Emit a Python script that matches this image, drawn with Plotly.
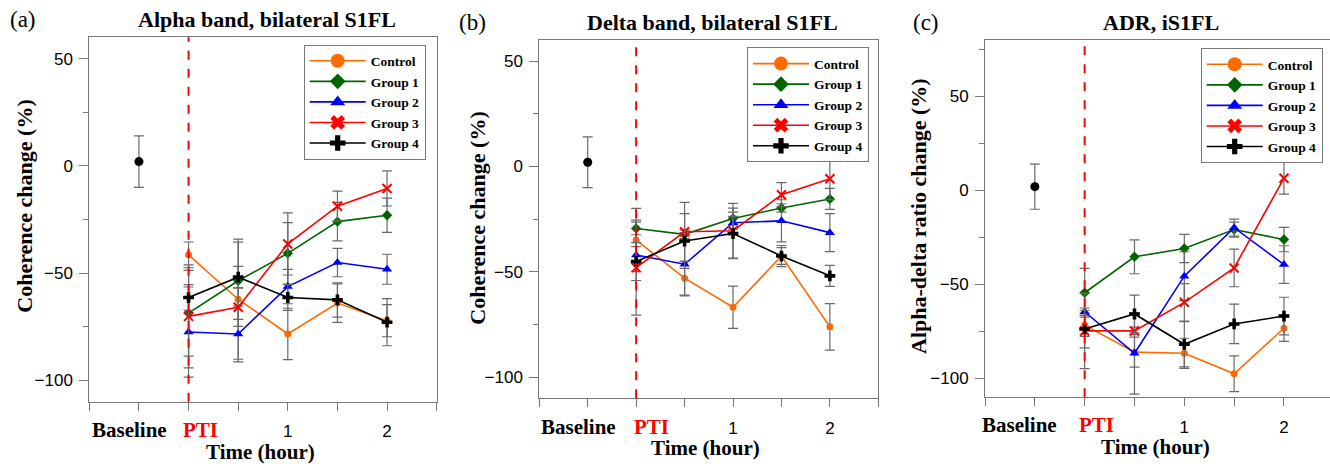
import plotly.graph_objects as go

SERIF = "Liberation Serif"
SANS = "Liberation Sans"
W, H = 1330, 466

# ---------------- data ----------------
groups = ["Control", "Group 1", "Group 2", "Group 3", "Group 4"]
time_points = [0, 0.5, 1, 1.5, 2]
baseline_x = [-0.5]
baseline_y = [2]
baseline_err = [12]

tick_vals = [-1, -0.5, 0, 0.5, 1, 1.5, 2, 2.5]
tick_text = ["", "", "", "", "1", "", "2", ""]
category_labels = ["Baseline", "PTI"]

# Panel (a) Alpha band coherence
a_vals = [
    [-41.5, -62.2, -78.4, -64.0, -72.2],
    [-68.7, -53.6, -40.8, -26.0, -23.0],
    [-77.5, -78.4, -56.3, -45.1, -48.2],
    [-70.2, -65.9, -36.4, -18.8, -10.5],
    [-61.4, -51.9, -61.4, -62.5, -72.9],
]
a_err = [
    [6, 28, 12, 9, 7.5],
    [20, 18, 14.3, 9, 8],
    [21, 13, 8, 6.6, 7],
    [24, 9, 14.5, 7, 8.2],
    [6, 5, 6, 8, 11],
]
# Panel (b) Delta band coherence
b_vals = [
    [-34.9, -53.0, -66.8, -42.5, -76.1],
    [-29.4, -32.2, -24.7, -19.7, -15.4],
    [-42.0, -46.4, -26.7, -25.8, -31.4],
    [-48.0, -31.0, -30.5, -13.4, -5.8],
    [-45.1, -35.4, -31.8, -42.5, -51.9],
]
b_err = [
    [15, 8, 10, 4, 11],
    [3, 2, 3, 2, 5],
    [4, 15, 3, 10, 9],
    [22.5, 14, 13, 5.7, 10],
    [9, 13, 12, 5, 5],
]
# Panel (c) ADR
c_vals = [
    [-71.6, -86.0, -86.6, -97.5, -73.3],
    [-54.4, -35.3, -30.9, -20.8, -26.1],
    [-64.5, -86.6, -45.6, -19.8, -39.4],
    [-74.7, -74.7, -59.5, -41.2, 6.5],
    [-73.7, -65.7, -81.8, -71.0, -66.8],
]
c_err = [
    [6, 8, 8, 9.5, 7],
    [13, 9, 7.5, 4, 6.5],
    [2, 21.7, 13, 4.5, 10],
    [20, 2, 10, 10, 8.5],
    [10, 10, 12, 10.5, 10],
]

titles = ["Alpha band, bilateral S1FL", "Delta band, bilateral S1FL", "ADR, iS1FL"]
panel_labels = ["(a)", "(b)", "(c)"]
y_titles = ["Coherence change (%)", "Coherence change (%)", "Alpha-delta ratio change (%)"]
x_title = "Time (hour)"

# ---------------- styles ----------------
colors = ["#FF6A00", "#006400", "#0000FF", "#FF0000", "#000000"]
plot_symbols = ["circle", "diamond", "triangle-up", "x-thin-open", "cross"]
plot_sizes = [7, 8, 9, 9, 9]
plot_mlw = [0, 0, 0, 2, 0]
leg_symbols = ["circle", "diamond", "triangle-up", "x", "cross"]
leg_sizes = [14, 12, 13, 13, 13]
ERR_COLOR = "rgb(105,105,105)"
FRAME = "rgb(120,120,120)"

# panel geometry in pixels: (left, right, top, bottom)
geom = [(89.3, 436.7, 37.3, 401.7), (539.3, 878.3, 40, 398.3), (985, 1330, 40, 397.3)]
x_ranges = [[-1, 2.5], [-1, 2.5], [-1, 2.462]]
y_ranges = [[-110, 60], [-110, 60], [-110, 80]]
legend_pos = [(425.7, 44.5), (869, 47.3), (1322.7, 48)]
title_pos = [(266.7, 20), (712.3, 22.7), (1161, 22.7)]
label_pos = [(8, 20), (457, 22.7), (911, 22.7)]
ytitle_pos = [(25, 206.7), (476.7, 218), (918, 216)]
xtitle_pos = [(260, 452), (705, 448), (1155, 447)]
cat_pos = [[(129, 430), (200.5, 430)], [(578, 427), (651, 427)], [(1019.5, 425), (1096, 425)]]

panels = [(a_vals, a_err), (b_vals, b_err), (c_vals, c_err)]

fig = go.Figure()
layout = dict(
    template="none",
    width=W, height=H, margin=dict(l=0, r=0, t=0, b=0, autoexpand=False),
    paper_bgcolor="white", plot_bgcolor="white",
    font=dict(family=SANS, color="black"),
    showlegend=True, annotations=[], shapes=[],
)

for p, (vals, errs) in enumerate(panels):
    sfx = "" if p == 0 else str(p + 1)
    xa, ya = "x" + sfx, "y" + sfx
    leg = "legend" + sfx
    # baseline point
    fig.add_trace(go.Scatter(
        x=baseline_x, y=baseline_y, mode="markers", xaxis=xa, yaxis=ya,
        marker=dict(symbol="circle", size=9, color="black"),
        error_y=dict(type="data", array=baseline_err, color=ERR_COLOR, thickness=1.2, width=5),
        showlegend=False, hoverinfo="skip"))
    for g in range(5):
        fig.add_trace(go.Scatter(
            x=time_points, y=vals[g], mode="lines+markers", xaxis=xa, yaxis=ya,
            name=groups[g], showlegend=False,
            line=dict(color=colors[g], width=1.6),
            marker=dict(symbol=plot_symbols[g], size=plot_sizes[g], color=colors[g],
                        line=dict(color=colors[g], width=plot_mlw[g])),
            error_y=dict(type="data", array=errs[g], color=ERR_COLOR, thickness=1.2, width=5)))
    for g in range(5):
        fig.add_trace(go.Scatter(
            x=[None], y=[None], mode="lines+markers", xaxis=xa, yaxis=ya,
            name=groups[g], legend=leg, showlegend=True,
            line=dict(color=colors[g], width=1.6),
            marker=dict(symbol=leg_symbols[g], size=leg_sizes[g], color=colors[g],
                        line=dict(width=0))))

    l, r, t, b = geom[p]
    layout["xaxis" + sfx] = dict(
        domain=[l / W, r / W], anchor=ya, range=x_ranges[p],
        tickmode="array", tickvals=tick_vals, ticktext=tick_text, tickangle=0,
        automargin=False, ticklabelstandoff=6,
        ticks="outside", ticklen=8, tickwidth=1, tickcolor=FRAME,
        showline=True, linecolor=FRAME, linewidth=1, mirror=True,
        showgrid=False, zeroline=False,
        tickfont=dict(family=SANS, size=17, color="black"))
    layout["yaxis" + sfx] = dict(
        domain=[1 - b / H, 1 - t / H], anchor=xa, range=y_ranges[p],
        automargin=False, ticklabelstandoff=3,
        tickmode="linear", tick0=0, dtick=50,
        ticks="outside", ticklen=9, tickwidth=1, tickcolor=FRAME,
        minor=dict(ticks="outside", ticklen=5, dtick=25, tick0=0, tickcolor=FRAME, showgrid=False),
        showline=True, linecolor=FRAME, linewidth=1, mirror=True,
        showgrid=False, zeroline=False,
        tickfont=dict(family=SANS, size=17, color="black"))
    lx, ly = legend_pos[p]
    layout[leg] = dict(
        x=lx / W, y=1 - ly / H, xanchor="right", yanchor="top",
        bgcolor="white", bordercolor=FRAME, borderwidth=1,
        font=dict(family=SERIF, size=13.5, color="black", weight="bold"),
        itemwidth=56, tracegroupgap=0, traceorder="normal")
    # PTI dashed line
    layout["shapes"].append(dict(
        type="line", xref=xa, yref=ya + " domain", x0=0, x1=0, y0=0, y1=1,
        line=dict(color="#FF0000", width=2, dash="dash")))
    tx, ty = title_pos[p]
    layout["annotations"].append(dict(
        text="<b>" + titles[p] + "</b>", x=tx / W, y=1 - ty / H, xref="paper", yref="paper",
        xanchor="center", yanchor="middle", showarrow=False,
        font=dict(family=SERIF, size=22, color="black")))
    px, py = label_pos[p]
    layout["annotations"].append(dict(
        text=panel_labels[p], x=px / W, y=1 - py / H, xref="paper", yref="paper",
        xanchor="left", yanchor="middle", showarrow=False,
        font=dict(family=SERIF, size=23, color="black")))
    yx, yy = ytitle_pos[p]
    layout["annotations"].append(dict(
        text="<b>" + y_titles[p] + "</b>", x=yx / W, y=1 - yy / H, xref="paper", yref="paper",
        xanchor="center", yanchor="middle", showarrow=False, textangle=-90,
        font=dict(family=SERIF, size=22, color="black")))
    xx, xy = xtitle_pos[p]
    layout["annotations"].append(dict(
        text="<b>" + x_title + "</b>", x=xx / W, y=1 - xy / H, xref="paper", yref="paper",
        xanchor="center", yanchor="middle", showarrow=False,
        font=dict(family=SERIF, size=21, color="black")))
    for k, lab in enumerate(category_labels):
        cx, cy = cat_pos[p][k]
        layout["annotations"].append(dict(
            text="<b>" + lab + "</b>", x=cx / W, y=1 - cy / H, xref="paper", yref="paper",
            xanchor="center", yanchor="middle", showarrow=False,
            font=dict(family=SERIF, size=21, color="#FF0000" if lab == "PTI" else "black")))

fig.update_layout(**layout)
fig.write_html("out.html", config={"displayModeBar": False},
               post_script="document.body.style.margin='0px';document.body.style.overflow='hidden';")
